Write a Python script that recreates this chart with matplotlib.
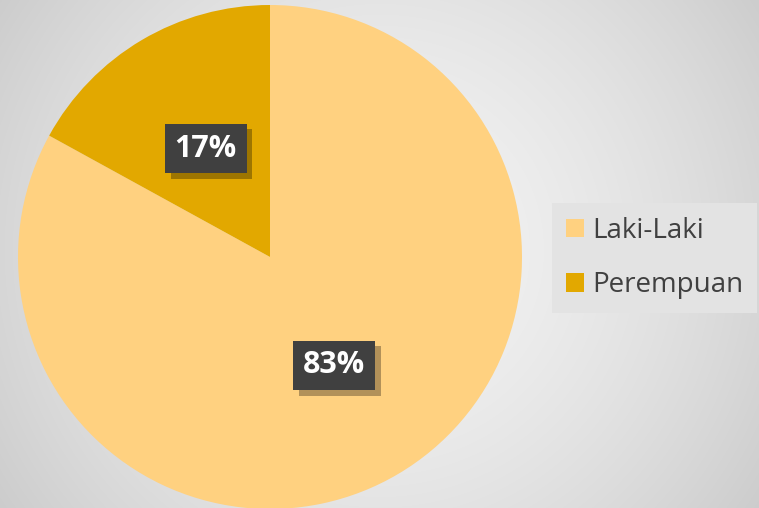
import matplotlib
matplotlib.use("Agg")
import matplotlib.pyplot as plt
import matplotlib.patheffects as pe
import numpy as np

labels = ["Laki-Laki", "Perempuan"]
values = [83, 17]
colors = ["#FFD180", "#E2A800"]

W, H = 759, 508
fig = plt.figure(figsize=(W / 100, H / 100), dpi=100)

# radial grey background
bg = fig.add_axes([0, 0, 1, 1])
yy, xx = np.mgrid[0:H, 0:W]
r = np.hypot((xx - 380) / 470., (yy - 250) / 470.)
shade = np.clip(0.955 - 0.16 * r ** 1.6, 0, 1)
bg.imshow(np.dstack([shade] * 3), aspect="auto", extent=[0, 1, 0, 1])
bg.axis("off")

# pie
R = 252
cx, cy = 270, 257
ax = fig.add_axes([(cx - R) / W, (H - cy - R) / H, 2 * R / W, 2 * R / H])
wedges, texts, autotexts = ax.pie(values, colors=colors, startangle=90,
                                  counterclock=False, autopct="%1.0f%%",
                                  pctdistance=0.5, radius=1.0,
                                  wedgeprops=dict(linewidth=0),
                                  textprops=dict(color="white", fontsize=22,
                                                 fontweight="bold",
                                                 family="Open Sans"))
ax.set_xlim(-1, 1)
ax.set_ylim(-1, 1)
ax.set_aspect("auto")
ax.axis("off")

for t in autotexts:
    t.set_bbox(dict(boxstyle="square,pad=0.32", facecolor="#404040",
                    edgecolor="none"))
    t.get_bbox_patch().set_path_effects([
        pe.SimplePatchShadow(offset=(4, -4), shadow_rgbFace="#000000", alpha=0.3),
        pe.Normal()])

leg = fig.legend(wedges, labels, loc="upper left",
                 bbox_to_anchor=(552 / W, 1 - 203 / H),
                 prop=dict(family="Open Sans", size=20),
                 handlelength=0.65, handleheight=0.65, handletextpad=0.3,
                 labelspacing=0.95, borderpad=0.5, borderaxespad=0,
                 frameon=True, fancybox=False)
leg.get_frame().set_facecolor("#E3E3E3")
leg.get_frame().set_edgecolor("none")
leg.get_frame().set_alpha(1)
for t in leg.get_texts():
    t.set_color("#404040")

fig.savefig("out.png", dpi=100)
